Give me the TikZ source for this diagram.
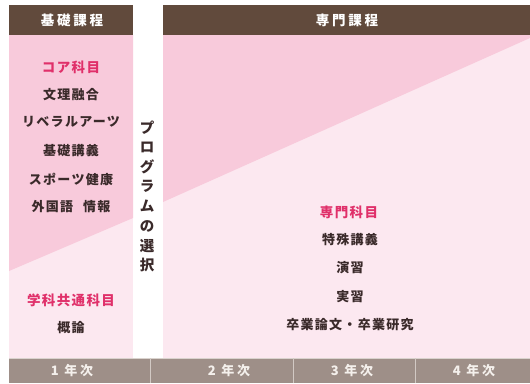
\documentclass[tikz,border=0pt]{standalone}
\usepackage{fontspec}
\newfontfamily\jp[LetterSpace=10]{Noto Sans CJK JP}
\newfontfamily\jph[LetterSpace=20]{Noto Sans CJK JP}
\newfontfamily\jpv{Noto Sans CJK JP}
\definecolor{brownhead}{HTML}{614A3C}
\definecolor{pinkdark}{HTML}{F8CADB}
\definecolor{pinklight}{HTML}{FCE8F0}
\definecolor{bargray}{HTML}{9E8F88}
\definecolor{redtxt}{HTML}{E0306A}
\definecolor{darktxt}{HTML}{3A2A2A}
\definecolor{bartxt}{HTML}{F4F0EC}
\tikzset{
  head/.style={text=white,font=\jph\bfseries\fontsize{13.5}{13.5}\selectfont,inner sep=0pt},
  item/.style={text=darktxt,font=\jp\bfseries\fontsize{13}{13}\selectfont,inner sep=0pt},
  cat/.style={text=redtxt,font=\jp\bfseries\fontsize{13.5}{13.5}\selectfont,inner sep=0pt},
  vch/.style={text=darktxt,font=\jpv\bfseries\fontsize{14.5}{14.5}\selectfont,inner sep=0pt},
  year/.style={text=bartxt,font=\jph\bfseries\fontsize{13}{13}\selectfont,inner sep=0pt}
}
\begin{document}
\begin{tikzpicture}[x=1pt,y=-1pt]
\useasboundingbox (0,0) rectangle (530,383);
\fill[white] (0,0) rectangle (530,383);
% left column
\fill[pinklight] (9,35) rectangle (133,358);
\fill[pinkdark] (9,35) -- (133,35) -- (133,218) -- (9,271) -- cycle;
\fill[brownhead] (9,5) rectangle (133,35);
% right column
\fill[pinklight] (163,35) rectangle (530,358);
\fill[pinkdark] (163,35) -- (530,35) -- (530,38) -- (163,202) -- cycle;
\fill[brownhead] (163,5) rectangle (530,35);
% bottom bar
\fill[bargray] (9,358) rectangle (530,383);
\draw[bartxt!70!bargray,line width=0.8pt] (9,358.4) -- (530,358.4);
\foreach \x in {150,293,415} \draw[bartxt!60!bargray,line width=1pt] (\x,358) -- (\x,383);
% headers
\node[head] (h1) at (72,20) {基礎課程};
\node[head] (h2) at (347,20) {専門課程};
% left texts
\node[cat]  (c1) at (71,67) {コア科目};
\node[item] (l1) at (71,95) {文理融合};
\node[item] (l2) at (71,122) {リベラルアーツ};
\node[item] (l3) at (71,151) {基礎講義};
\node[item] (l4) at (71,179) {スポーツ健康};
\node[item] (l5) at (71,207) {外国語\hspace*{10pt}情報};
\node[cat]  (c2) at (71,300) {学科共通科目};
\node[item] (l6) at (71,328) {概論};
% vertical text
\foreach \c [count=\i from 0] in {プ,ロ,グ,ラ,ム,の,選,択}
  \node[vch] (v\i) at (147,128+19.6*\i) {\c};
% right texts
\node[cat]  (c3) at (349,212) {専門科目};
\node[item] (r1) at (350,240) {特殊講義};
\node[item] (r2) at (350,268) {演習};
\node[item] (r3) at (350,297) {実習};
\node[item] (r4) at (350,325) {卒業論文・卒業研究};
% years
\node[year] (y1) at (72,371) {1 年次};
\node[year] (y2) at (229,371) {2 年次};
\node[year] (y3) at (352,371) {3 年次};
\node[year] (y4) at (474,371) {4 年次};
\end{tikzpicture}
\end{document}
